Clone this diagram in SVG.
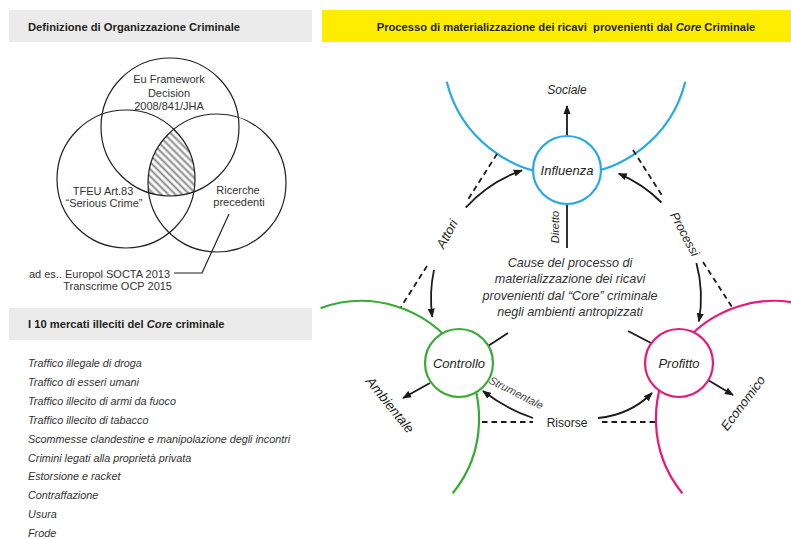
<svg xmlns="http://www.w3.org/2000/svg" width="791" height="539" viewBox="0 0 791 539">
<style>
text{font-family:"Liberation Sans",Arial,sans-serif;fill:#231f20}
.h{font-size:11.2px;font-weight:bold}
.v{font-size:11px;fill:#333;text-anchor:middle}
.li{font-size:10.8px;font-style:italic;fill:#333}
.it{font-style:italic}
.m{text-anchor:middle}
.ln{stroke:#1a1a1a;stroke-width:1.8;fill:none}
.ar{marker-end:url(#ah)}
.da{stroke:#1a1a1a;stroke-width:1.8;stroke-dasharray:5.5 4;fill:none}
.vc{fill:none;stroke:#231f20;stroke-width:1.2}
.big{fill:none;stroke-width:2.2}
.node{fill:#fff;stroke-width:2.2}
.blue{stroke:#27aae1}
.green{stroke:#3aaa35}
.pink{stroke:#e6197f}
.ct{font-size:12.6px;font-style:italic;fill:#333;text-anchor:middle}
</style>
<defs>
<marker id="ah" viewBox="0 0 10 8" refX="9" refY="4" markerWidth="9" markerHeight="7.5" orient="auto" markerUnits="userSpaceOnUse"><path d="M0,0 L10,4 L0,8 z" fill="#1a1a1a"/></marker>
<pattern id="hatch" patternUnits="userSpaceOnUse" width="5" height="5" patternTransform="rotate(-45)"><rect width="5" height="5" fill="#fff"/><line x1="1.5" y1="0" x2="1.5" y2="5" stroke="#8a8a8a" stroke-width="2"/></pattern>
<clipPath id="cL"><circle cx="126" cy="179" r="69"/></clipPath>
<clipPath id="cR"><circle cx="217" cy="183" r="69"/></clipPath>
</defs>

<!-- headers -->
<rect x="9" y="10" width="303" height="32" fill="#ebebeb"/>
<text class="h" x="28" y="31">Definizione di Organizzazione Criminale</text>
<rect x="9" y="308" width="303" height="32" fill="#ebebeb"/>
<text class="h" x="28" y="328">I 10 mercati illeciti del <tspan class="it">Core</tspan> criminale</text>
<rect x="322" y="10" width="469" height="32" fill="#ffed00"/>
<text class="h m" x="566" y="31" style="white-space:pre">Processo di materializzazione dei ricavi  provenienti dal <tspan class="it">Core</tspan> Criminale</text>

<!-- Venn -->
<g id="venn-hatch" clip-path="url(#cL)"><g clip-path="url(#cR)"><circle cx="170" cy="127" r="69" fill="url(#hatch)"/></g></g>
<g id="venn-eu"><circle class="vc" cx="170" cy="127" r="69"/>
<text class="v" x="169" y="83">Eu Framework</text><text class="v" x="169" y="96.5">Decision</text><text class="v" x="169" y="110">2008/841/JHA</text></g>
<g id="venn-tfeu"><circle class="vc" cx="126" cy="179" r="69"/>
<text class="v" x="103" y="195">TFEU Art.83</text><text class="v" x="104" y="207">“Serious Crime”</text></g>
<g id="venn-ricerche"><circle class="vc" cx="217" cy="183" r="69"/>
<text class="v" x="238" y="194">Ricerche</text><text class="v" x="239" y="206">precedenti</text></g>
<g id="venn-note">
<path d="M229,214 L202,273 L174,273" fill="none" stroke="#231f20" stroke-width="1.2"/>
<text class="v" style="text-anchor:end" x="170" y="278">ad es.. Europol SOCTA 2013</text>
<text class="v" style="text-anchor:end" x="172" y="290">Transcrime OCP 2015</text>
</g>

<!-- list -->
<g id="list">
<text class="li" x="28" y="367">Traffico illegale di droga</text>
<text class="li" x="28" y="385.9">Traffico di esseri umani</text>
<text class="li" x="28" y="404.8">Traffico illecito di armi da fuoco</text>
<text class="li" x="28" y="423.7">Traffico illecito di tabacco</text>
<text class="li" x="28" y="442.6">Scommesse clandestine e manipolazione degli incontri</text>
<text class="li" x="28" y="461.5">Crimini legati alla proprietà privata</text>
<text class="li" x="28" y="480.4">Estorsione e racket</text>
<text class="li" x="28" y="499.3">Contraffazione</text>
<text class="li" x="28" y="518.2">Usura</text>
<text class="li" x="28" y="537.1">Frode</text>
</g>

<!-- big arcs -->
<g id="domains">
<path class="big blue" d="M685.3,81.8 A123,123 0 0 1 446.7,81.8"/>
<path class="big green" d="M320.6,308.1 A118,118 0 0 1 452.7,493.3"/>
<path class="big pink" d="M682.3,493.3 A118,118 0 0 1 814.4,308.1"/>
</g>

<!-- connectors -->
<g id="connectors">
<path class="ln ar" d="M567,136 L567,106"/>
<path class="ln" d="M567,204 L567,248"/>
<path class="ln" d="M508,333 L488,346"/>
<path class="ln" d="M628,331 L651,343"/>
<path class="ln ar" d="M430,383 L403,398"/>
<path class="ln ar" d="M708,380 L733,395"/>
<path class="ln ar" d="M465.7,207.7 A135,135 0 0 1 522,170.4"/>
<path class="ln ar" d="M434,269.9 A135,135 0 0 0 432.3,316.8"/>
<path class="ln ar" d="M661.5,202.5 A135,135 0 0 0 618.7,173.7"/>
<path class="ln ar" d="M696.4,263.1 A135,135 0 0 1 698.9,321.4"/>
<path class="ln ar" d="M533,418 Q508,410 483,391"/>
<path class="ln ar" d="M598,418 Q630,415 652,393"/>
<path class="da" d="M497,154 L467,201"/>
<path class="da" d="M427,266 L401,307"/>
<path class="da" d="M633,150 L663,197"/>
<path class="da" d="M703,262 L732,307"/>
<path class="da" d="M482,422 H533"/>
<path class="da" d="M602,422 H655"/>
</g>

<!-- nodes -->
<g id="influenza"><circle class="node blue" cx="567" cy="170" r="34"/><text class="it m" style="font-size:13px" x="567" y="174.5">Influenza</text></g>
<g id="controllo"><circle class="node green" cx="459" cy="363" r="34"/><text class="it m" style="font-size:13px" x="459" y="367.5">Controllo</text></g>
<g id="profitto"><circle class="node pink" cx="679" cy="363" r="34"/><text class="it m" style="font-size:13px" x="679" y="367.5">Profitto</text></g>

<!-- labels -->
<g id="labels">
<text class="it m" style="font-size:12px" x="567" y="94">Sociale</text>
<text class="it m" style="font-size:11px" transform="translate(559,227) rotate(-90)">Diretto</text>
<text class="it m" style="font-size:13px" transform="translate(447,234) rotate(-62)" y="4.5">Attori</text>
<text class="it m" style="font-size:12.5px" transform="translate(685,234) rotate(62)" y="4.5">Processi</text>
<text class="it m" style="font-size:13.5px" transform="translate(390,405) rotate(51)" y="4.5">Ambientale</text>
<text class="it m" style="font-size:13px" transform="translate(743,403) rotate(-53)" y="4.5">Economico</text>
<text class="it m" style="font-size:11px;fill:#444" transform="translate(516,393) rotate(27)" y="3.5">Strumentale</text>
<text class="m" style="font-size:12px" x="567" y="427">Risorse</text>
<text class="ct" x="570" y="267">Cause del processo di</text>
<text class="ct" x="570" y="283">materializzazione dei ricavi</text>
<text class="ct" x="570" y="300">provenienti dal “Core” criminale</text>
<text class="ct" x="570" y="316">negli ambienti antropizzati</text>
</g>
</svg>
